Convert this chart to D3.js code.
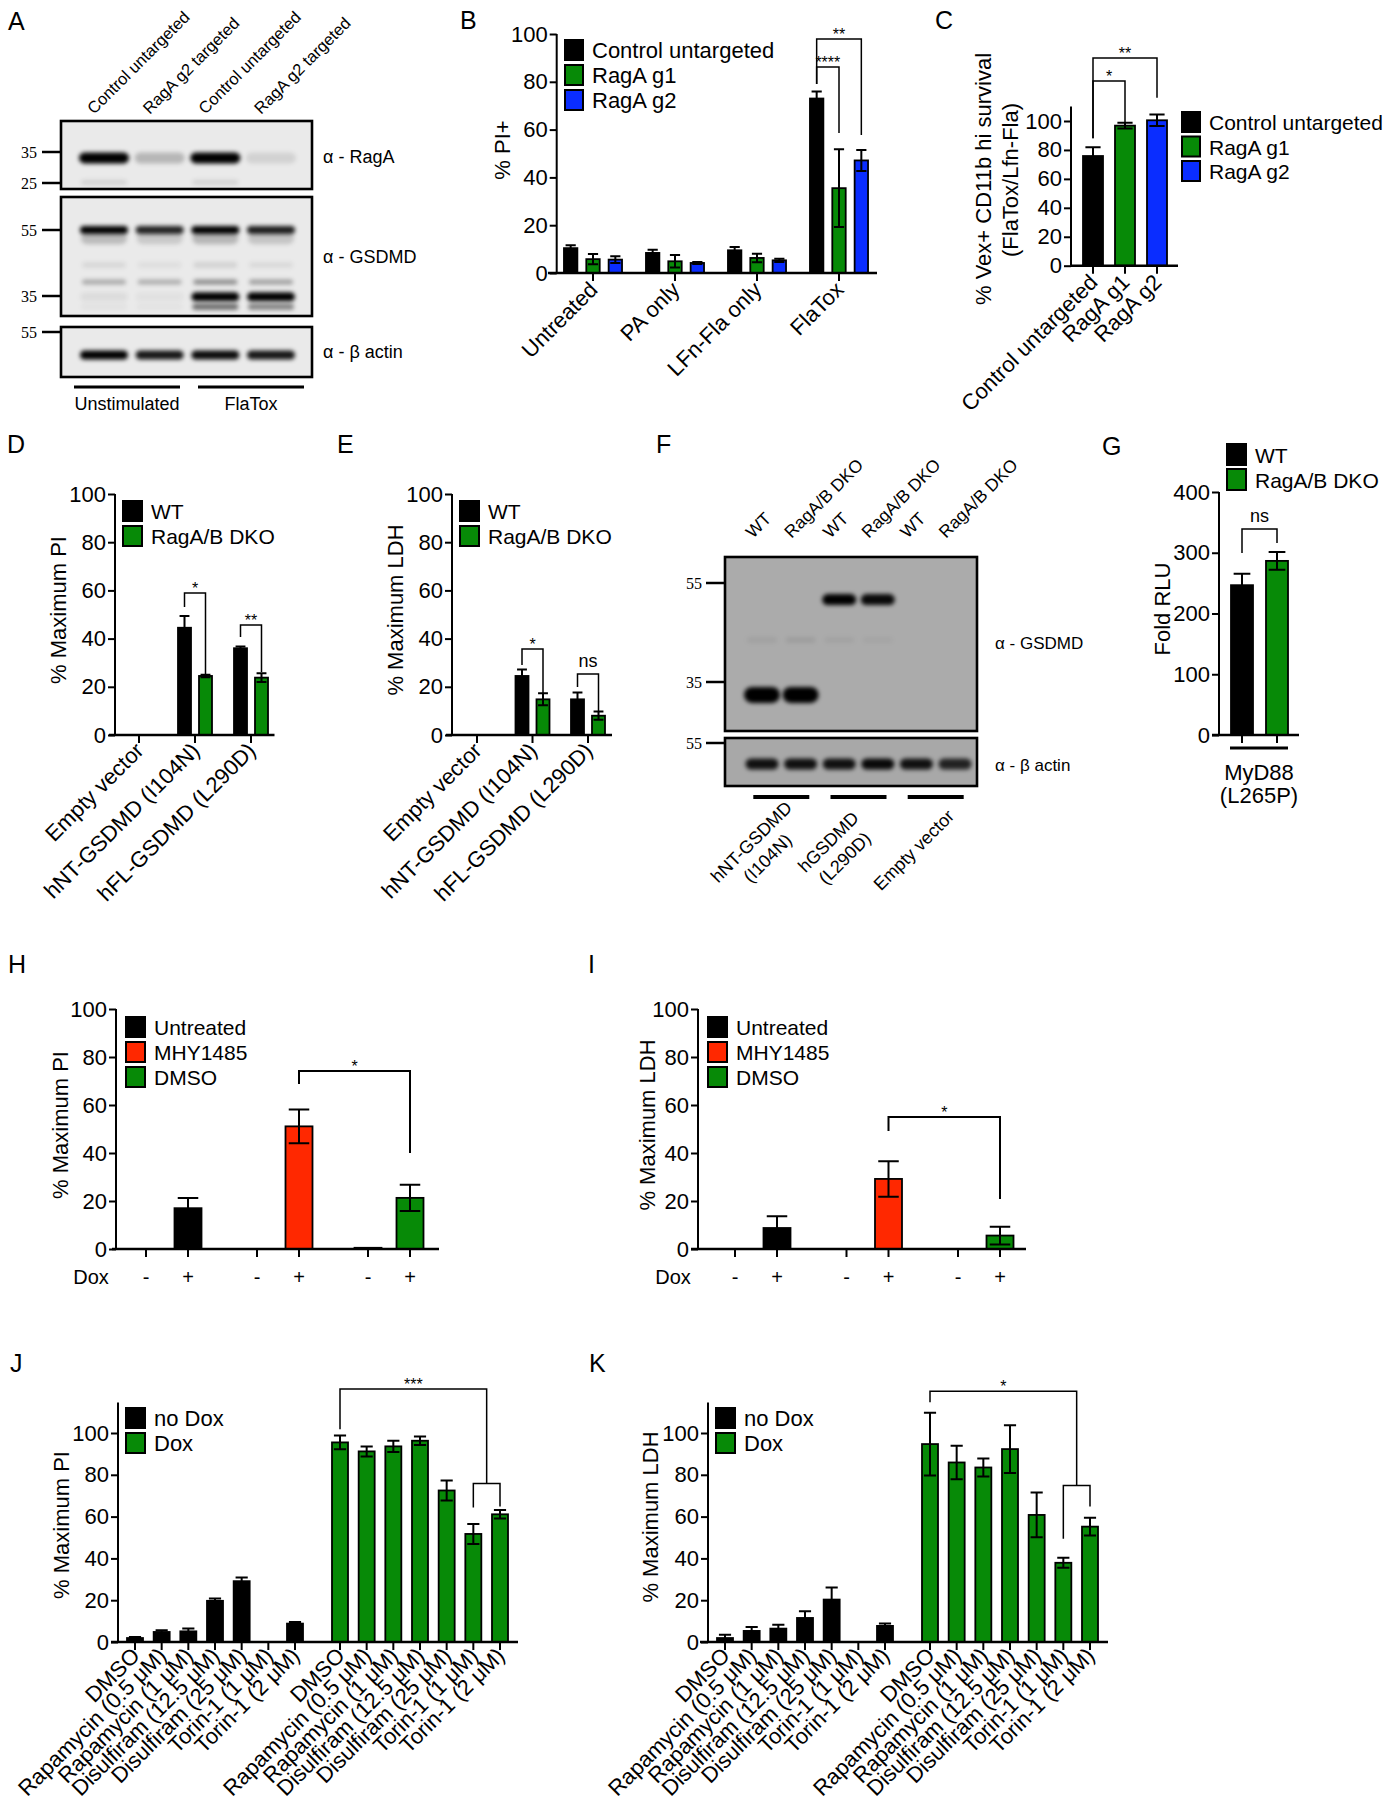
<!DOCTYPE html>
<html>
<head>
<meta charset="utf-8">
<title>RagA / GSDMD figure</title>
<script src="https://cdn.jsdelivr.net/npm/d3@7/dist/d3.min.js"></script>
<style>
  body { margin: 0; background: #fff; }
  text { font-family: "Liberation Sans", Arial, sans-serif; fill: #000; }
</style>
</head>
<body>
<svg id="fig" width="1392" height="1810"></svg>
<script>
// ---------- data ----------
// A: blot, band intensity per lane (0..1)
const aLanes = ['Control untargeted', 'RagA g2 targeted', 'Control untargeted', 'RagA g2 targeted'];
const aConditions = ['Unstimulated', 'FlaTox'];
const aRagA = [1, 0.22, 1, 0.1];
const aRagALow = [0.1, 0, 0.1, 0];
const aGsdmdFL = [1, 0.85, 1, 0.88];
const aGsdmdFL2 = [0.2, 0.14, 0.22, 0.16];
const aGsdmdMid = [0.08, 0.05, 0.1, 0.07];
const aGsdmd38 = [0.28, 0.26, 0.4, 0.32];
const aGsdmdNT = [0.06, 0.04, 1, 1];
const aGsdmdNT2 = [0.04, 0.03, 0.55, 0.45];
const aActin = [1, 0.9, 0.95, 0.9];

// B
const bCategories = ['Untreated', 'PA only', 'LFn-Fla only', 'FlaTox'];
const bSeries = ['Control untargeted', 'RagA g1', 'RagA g2'];
const bMean = [[10.4, 8.4, 9.5, 73], [5.8, 4.9, 6.3, 35.5], [5.6, 4.2, 5.3, 47.1]];
const bErr = [[1.2, 1.3, 1.4, 2.9], [2.1, 2.6, 1.8, 16.3], [1.4, 0.4, 0.7, 4.4]];
const bBrackets = [
  {a: 0, b: 2, level: 97.9, endA: 79.1, endB: 57.7, label: '**'},
  {a: 0, b: 1, level: 86.2, endA: 79.1, endB: 58.6, label: '****'}
];

// C
const cSeries = ['Control untargeted', 'RagA g1', 'RagA g2'];
const cMean = [75.8, 96.8, 100.5];
const cErr = [6, 2, 4];
const cBrackets = [
  {a: 0, b: 2, level: 143.5, endA: 88, endB: 116, label: '**'},
  {a: 0, b: 1, level: 127.6, endA: 88, endB: 99.3, label: '*'}
];

// D, E
const deCategories = ['Empty vector', 'hNT-GSDMD (I104N)', 'hFL-GSDMD (L290D)'];
const deSeries = ['WT', 'RagA/B DKO'];
const dMean = [[0, 44.5, 36], [0, 24.5, 23.8]];
const dErr = [[0, 4.9, 0.7], [0, 0.5, 1.8]];
const dBrackets = [
  {cat: 1, level: 58.9, endA: 53.1, endB: 25.3, label: '*'},
  {cat: 2, level: 45.6, endA: 40.7, endB: 26.1, label: '**'}
];
const eMean = [[0, 24.5, 14.8], [0, 14.8, 8]];
const eErr = [[0, 2.7, 2.8], [0, 2.5, 1.7]];
const eBrackets = [
  {cat: 1, level: 35.7, endA: 29, endB: 17.4, label: '*'},
  {cat: 2, level: 25.3, endA: 19.9, endB: 9.5, label: 'ns'}
];

// F: blot
const fLanes = ['WT', 'RagA/B DKO', 'WT', 'RagA/B DKO', 'WT', 'RagA/B DKO'];
const fConstructs = [['hNT-GSDMD', '(I104N)'], ['hGSDMD', '(L290D)'], ['Empty vector']];
const fGsdmdNT = [1, 1, 0, 0, 0, 0];
const fGsdmdFL = [0, 0, 1, 0.95, 0, 0];
const fFaint = [0.06, 0.08, 0.05, 0.04, 0, 0];
const fActin = [0.9, 0.9, 0.9, 0.95, 0.9, 0.8];

// G
const gSeries = ['WT', 'RagA/B DKO'];
const gMean = [246.6, 286.6];
const gErr = [19, 14.5];
const gBracket = {level: 339, endA: 299.6, endB: 316, label: 'ns'};

// H, I
const hiGroups = ['Untreated', 'MHY1485', 'DMSO'];
const hiDox = ['-', '+'];
const hNoDox = [0, 0, 0.5];
const hDox = [17, 51.1, 21.3];
const hDoxErr = [4.3, 7, 5.5];
const hBracket = {level: 74.2, endA: 68.75, endB: 40, label: '*'};
const iNoDox = [0, 0, 0];
const iDox = [8.75, 29.2, 5.6];
const iDoxErr = [4.9, 7.4, 3.7];
const iBracket = {level: 55, endA: 49.2, endB: 20.8, label: '*'};

// J, K
const jkDrugs = ['DMSO', 'Rapamycin (0.5 μM)', 'Rapamycin (1 μM)', 'Disulfiram (12.5 μM)',
  'Disulfiram (25 μM)', 'Torin-1 (1 μM)', 'Torin-1 (2 μM)'];
const jkSeries = ['no Dox', 'Dox'];
const jNoDox = [1.9, 4.8, 5.1, 19.7, 29.1, 0, 8.8];
const jNoDoxErr = [0.5, 0.8, 1.3, 1.1, 1.8, 0, 0.8];
const jDox = [95.5, 91.2, 93.6, 96.3, 72.5, 51.7, 61.1];
const jDoxErr = [3.3, 2.4, 2.7, 2.0, 4.8, 4.8, 2.0];
const jBrackets = {outer: {level: 121, endA: 101.8, endB: 75.8, label: '***'}, inner: {level: 75.8, endA: 64.3, endB: 64.8}};
const kNoDox = [1.9, 5.3, 6.4, 11.5, 20.3, 0, 7.7];
const kNoDoxErr = [1.6, 1.9, 1.9, 3.2, 5.8, 0, 1.1];
const kDox = [94.7, 85.9, 83.5, 92.3, 60.8, 37.9, 55.2];
const kDoxErr = [15, 8, 4.3, 11.4, 10.7, 2.4, 4.3];
const kBrackets = {outer: {level: 120, endA: 114.7, endB: 74.9, label: '*'}, inner: {level: 74.9, endA: 49.4, endB: 64.8}};

// ---------- helpers ----------
const COL = {black: '#000000', green: '#078a07', blue: '#0a2dff', red: '#ff2800'};
const svg = d3.select('#fig');
svg.append('rect').attr('width', 1392).attr('height', 1810).attr('fill', '#fff');
svg.append('defs').append('filter').attr('id', 'blur')
  .attr('x', '-30%').attr('y', '-150%').attr('width', '160%').attr('height', '400%')
  .append('feGaussianBlur').attr('stdDeviation', 2);

function letter(ch, x, y) {
  svg.append('text').attr('x', x).attr('y', y).attr('font-size', 25).text(ch);
}

function yAxis(g, y, x, ticks, top, fs) {
  const ax = g.append('g').attr('transform', 'translate(' + x + ',0)')
    .call(d3.axisLeft(y).tickValues(ticks).tickSize(7).tickPadding(2).tickSizeOuter(0));
  ax.attr('font-size', fs || 22);
  ax.select('.domain').remove();
  ax.append('line').attr('y1', y(0)).attr('y2', top).attr('stroke', '#000').attr('stroke-width', 2);
  ax.selectAll('.tick line').attr('stroke-width', 2);
}

function xAxis(g, x0, x1, y0, tickXs) {
  g.append('line').attr('x1', x0).attr('x2', x1).attr('y1', y0).attr('y2', y0)
    .attr('stroke', '#000').attr('stroke-width', 2.4);
  g.selectAll(null).data(tickXs).join('line')
    .attr('x1', d => d).attr('x2', d => d).attr('y1', y0).attr('y2', y0 + 8)
    .attr('stroke', '#000').attr('stroke-width', 2);
}

function drawBars(g, y, data) {
  g.selectAll(null).data(data).join('rect')
    .attr('x', d => d.cx - d.w / 2).attr('y', d => y(d.v))
    .attr('width', d => d.w).attr('height', d => y(0) - y(d.v))
    .attr('fill', d => d.fill).attr('stroke', '#000').attr('stroke-width', 1.8);
  g.selectAll(null).data(data.filter(d => d.e > 0)).join('path')
    .attr('d', d => {
      const c = d.w * 0.38, t = y(d.v + d.e), b = y(Math.max(0, d.v - d.e));
      return 'M' + d.cx + ',' + t + 'V' + b + 'M' + (d.cx - c) + ',' + t + 'H' + (d.cx + c) +
        'M' + (d.cx - c) + ',' + b + 'H' + (d.cx + c);
    })
    .attr('fill', 'none').attr('stroke', '#000').attr('stroke-width', 2);
}

function legend(g, x, y0, labels, colors, opt) {
  opt = Object.assign({w: 19, h: 20, dy: 25, gap: 9, fs: 22}, opt || {});
  const it = g.selectAll(null).data(labels).join('g')
    .attr('transform', (d, i) => 'translate(' + x + ',' + (y0 + i * opt.dy) + ')');
  it.append('rect').attr('width', opt.w).attr('height', opt.h)
    .attr('fill', (d, i) => colors[i]).attr('stroke', '#000').attr('stroke-width', 2);
  it.append('text').attr('x', opt.w + opt.gap).attr('y', opt.h - 2).attr('font-size', opt.fs).text(d => d);
}

function bracket(g, y, xa, xb, b, sw) {
  const ly = y(b.level);
  g.append('path').attr('d', 'M' + xa + ',' + y(b.endA) + 'V' + ly + 'H' + xb + 'V' + y(b.endB))
    .attr('fill', 'none').attr('stroke', '#000').attr('stroke-width', sw || 1.5);
  if (b.label) {
    g.append('text').attr('x', (xa + xb) / 2).attr('y', b.label === 'ns' ? ly - 7 : ly + 1)
      .attr('text-anchor', 'middle').attr('font-size', b.label === 'ns' ? 18 : 16).text(b.label);
  }
}

function yLabel(g, cx, cy, s, fs) {
  g.append('text').attr('transform', 'translate(' + cx + ',' + cy + ') rotate(-90)')
    .attr('text-anchor', 'middle').attr('dy', '0.35em').attr('font-size', fs || 22).text(s);
}

function xLabels(g, labels, xs, y0, fs, dx, dy) {
  g.selectAll(null).data(labels).join('text')
    .attr('transform', (d, i) => 'translate(' + (xs[i] + dx) + ',' + (y0 + dy) + ') rotate(-45)')
    .attr('text-anchor', 'end').attr('font-size', fs).text(d => d);
}

function blotBox(g, x0, x1, y0, y1, bg) {
  g.append('rect').attr('x', x0).attr('y', y0).attr('width', x1 - x0).attr('height', y1 - y0)
    .attr('fill', bg).attr('stroke', '#000').attr('stroke-width', 2.6);
}

function bands(g, lane, yPos, intens, w, h) {
  g.selectAll(null).data(intens).join('rect')
    .attr('x', (d, i) => lane(i) - w / 2).attr('y', yPos - h / 2)
    .attr('width', w).attr('height', h).attr('rx', h / 2)
    .attr('fill', '#000').attr('fill-opacity', d => d).attr('filter', 'url(#blur)');
}

function marker(g, yPos, label, xText, x0, x1, fs) {
  g.append('line').attr('x1', x0).attr('x2', x1).attr('y1', yPos).attr('y2', yPos)
    .attr('stroke', '#000').attr('stroke-width', 2.5);
  g.append('text').attr('x', xText).attr('y', yPos).attr('dy', '0.35em').attr('text-anchor', 'end')
    .attr('font-size', fs).style('font-family', '"Liberation Serif", "Times New Roman", serif').text(label);
}

function bar(cx, w, v, e, fill) { return {cx: cx, w: w, v: v, e: e, fill: fill}; }

// ---------- A ----------
(function () {
  const g = svg.append('g');
  letter('A', 8, 30);
  const lane = d3.scalePoint(d3.range(aLanes.length), [104, 271]);
  const k1 = d3.scaleLog([25, 35], [183, 152]);
  const k2 = d3.scaleLog([35, 55], [296, 230]);
  const k3 = d3.scaleLog([42, 55], [355, 332]);
  blotBox(g, 61, 312, 121, 189, '#eaeaea');
  blotBox(g, 61, 312, 197, 316, '#eaeaea');
  blotBox(g, 61, 312, 327, 377, '#eaeaea');
  bands(g, lane, k1(32.8), aRagA, 50, 11);
  bands(g, lane, k1(25.2), aRagALow, 46, 5);
  bands(g, lane, k2(52), aGsdmdFL2, 46, 12);
  bands(g, lane, k2(55), aGsdmdFL, 48, 8);
  bands(g, lane, k2(43.3), aGsdmdMid, 44, 6);
  bands(g, lane, k2(38.5), aGsdmd38, 44, 5);
  bands(g, lane, k2(34.8), aGsdmdNT, 48, 9);
  bands(g, lane, k2(32.5), aGsdmdNT2, 46, 6);
  bands(g, lane, k3(42), aActin, 48, 9);
  const fs = 16;
  marker(g, k1(35), '35', 37, 42, 61, fs);
  marker(g, k1(25), '25', 37, 42, 61, fs);
  marker(g, k2(55), '55', 37, 42, 61, fs);
  marker(g, k2(35), '35', 37, 42, 61, fs);
  marker(g, k3(55), '55', 37, 42, 61, fs);
  g.selectAll(null).data(aLanes).join('text')
    .attr('transform', (d, i) => 'translate(' + (lane(i) - 10) + ',115) rotate(-45)')
    .attr('font-size', 16.5).text(d => d);
  g.append('text').attr('x', 323).attr('y', 163).attr('font-size', 18).text('α - RagA');
  g.append('text').attr('x', 323).attr('y', 263).attr('font-size', 18).text('α - GSDMD');
  g.append('text').attr('x', 323).attr('y', 358).attr('font-size', 18).text('α - β actin');
  const cx = [127, 251];
  aConditions.forEach((c, i) => {
    g.append('line').attr('x1', cx[i] - 53).attr('x2', cx[i] + 53).attr('y1', 387).attr('y2', 387)
      .attr('stroke', '#000').attr('stroke-width', 3);
    g.append('text').attr('x', cx[i]).attr('y', 410).attr('text-anchor', 'middle').attr('font-size', 18).text(c);
  });
})();

// ---------- B ----------
(function () {
  const g = svg.append('g');
  letter('B', 460, 29);
  const y = d3.scaleLinear([0, 100], [273, 34]);
  const x = d3.scalePoint(bCategories, [593, 839]);
  const sub = d3.scaleBand(bSeries, [-33.5, 33.5]).paddingInner(0.4).paddingOuter(0.2);
  const colors = [COL.black, COL.green, COL.blue];
  const cxOf = (j, i) => x(bCategories[j]) + sub(bSeries[i]) + sub.bandwidth() / 2;
  const data = bSeries.flatMap((s, i) => bCategories.map((c, j) =>
    bar(cxOf(j, i), sub.bandwidth(), bMean[i][j], bErr[i][j], colors[i])));
  drawBars(g, y, data);
  yAxis(g, y, 556.7, d3.range(0, 101, 20), y(100));
  xAxis(g, 548, 877, y(0), bCategories.map(x));
  bBrackets.forEach(b => bracket(g, y, cxOf(3, b.a), cxOf(3, b.b), b));
  legend(g, 565, 40, bSeries, colors, {w: 18});
  yLabel(g, 502, 150, '% PI+');
  xLabels(g, bCategories, bCategories.map(x), y(0), 22, 6, 18);
})();

// ---------- C ----------
(function () {
  const g = svg.append('g');
  letter('C', 935, 29);
  const y = d3.scaleLinear([0, 100], [265.7, 121]);
  const x = d3.scaleBand(cSeries, [1077, 1173]).paddingInner(0.375).paddingOuter(0.1875);
  const colors = [COL.black, COL.green, COL.blue];
  const cx = cSeries.map(s => x(s) + x.bandwidth() / 2);
  drawBars(g, y, cSeries.map((s, i) => bar(cx[i], x.bandwidth(), cMean[i], cErr[i], colors[i])));
  yAxis(g, y, 1071, d3.range(0, 101, 20), y(110));
  xAxis(g, 1071, 1178, y(0), cx);
  cBrackets.forEach(b => bracket(g, y, cx[b.a], cx[b.b], b));
  legend(g, 1182, 112, cSeries, colors, {w: 18, dy: 24.5, gap: 9, fs: 21});
  g.append('text').attr('transform', 'translate(983,179) rotate(-90)').attr('text-anchor', 'middle')
    .attr('dy', '0.35em').attr('font-size', 22).text('% Vex+ CD11b hi survival');
  g.append('text').attr('transform', 'translate(1010,180) rotate(-90)').attr('text-anchor', 'middle')
    .attr('dy', '0.35em').attr('font-size', 22).text('(FlaTox/Lfn-Fla)');
  xLabels(g, cSeries, cx, y(0), 22, 6, 18);
})();

// ---------- D, E ----------
function dePanel(ch, lx, axisX, x0, x1, range, means, errs, brackets, ylab, ylx) {
  const g = svg.append('g');
  letter(ch, lx, 453);
  const y = d3.scaleLinear([0, 100], [735, 494]);
  const x = d3.scalePoint(deCategories, range);
  const sub = d3.scalePoint(deSeries, [-10.5, 10.5]);
  const colors = [COL.black, COL.green];
  const data = deSeries.flatMap((s, i) => deCategories.map((c, j) =>
    bar(x(c) + sub(s), 13, means[i][j], errs[i][j], colors[i])));
  drawBars(g, y, data);
  yAxis(g, y, axisX, d3.range(0, 101, 20), y(100));
  xAxis(g, x0, x1, y(0), deCategories.map(x));
  brackets.forEach(b => {
    const c = deCategories[b.cat];
    bracket(g, y, x(c) + sub(deSeries[0]), x(c) + sub(deSeries[1]), b);
  });
  legend(g, axisX + 8, 501, deSeries, colors, {w: 19, fs: 21});
  yLabel(g, ylx, 610, ylab);
  xLabels(g, deCategories, deCategories.map(x), y(0), 22, 6, 17);
}
dePanel('D', 7, 115, 109, 274.5, [139, 251], dMean, dErr, dBrackets, '% Maximum PI', 58);
dePanel('E', 337, 452, 446, 612, [477, 588], eMean, eErr, eBrackets, '% Maximum LDH', 395);

// ---------- F ----------
(function () {
  const g = svg.append('g');
  letter('F', 656, 453);
  const lane = d3.scalePoint(d3.range(fLanes.length), [762, 955]);
  const k1 = d3.scaleLog([35, 55], [682, 583]);
  const k2 = d3.scaleLog([42, 55], [764, 743]);
  blotBox(g, 725, 977, 557, 731, '#ababab');
  blotBox(g, 725, 977, 738, 786, '#a8a8a8');
  bands(g, lane, k1(42.4), fFaint, 30, 6);
  bands(g, lane, k1(51), fGsdmdFL, 34, 11);
  bands(g, lane, k1(33), fGsdmdNT, 36, 16);
  bands(g, lane, k2(42), fActin, 33, 11);
  marker(g, k1(55), '55', 702, 706, 725, 16);
  marker(g, k1(35), '35', 702, 706, 725, 16);
  marker(g, k2(55), '55', 702, 706, 725, 16);
  g.selectAll(null).data(fLanes).join('text')
    .attr('transform', (d, i) => 'translate(' + (lane(i) - 9) + ',539) rotate(-45)')
    .attr('font-size', 17.5).text(d => d);
  g.append('text').attr('x', 995).attr('y', 649).attr('font-size', 17).text('α - GSDMD');
  g.append('text').attr('x', 995).attr('y', 771).attr('font-size', 17).text('α - β actin');
  fConstructs.forEach((lines, k) => {
    const c = (lane(2 * k) + lane(2 * k + 1)) / 2;
    g.append('line').attr('x1', c - 28).attr('x2', c + 28).attr('y1', 797).attr('y2', 797)
      .attr('stroke', '#000').attr('stroke-width', 4);
    const t = g.append('text').attr('transform', 'translate(' + (c - 22) + ',850) rotate(-45)')
      .attr('text-anchor', 'middle').attr('font-size', 18);
    lines.forEach((s, i) => {
      t.append('tspan').attr('x', 0).attr('y', (i - (lines.length - 1) / 2) * 23).attr('dy', '0.35em').text(s);
    });
  });
})();

// ---------- G ----------
(function () {
  const g = svg.append('g');
  letter('G', 1102, 455);
  const y = d3.scaleLinear([0, 400], [735, 492]);
  const x = d3.scalePoint(gSeries, [1242, 1277]);
  const colors = [COL.black, COL.green];
  drawBars(g, y, gSeries.map((s, i) => bar(x(s), 22, gMean[i], gErr[i], colors[i])));
  yAxis(g, y, 1219, d3.range(0, 401, 100), y(400));
  xAxis(g, 1212, 1299, y(0), gSeries.map(x));
  bracket(g, y, x(gSeries[0]), x(gSeries[1]), gBracket);
  legend(g, 1227, 444, gSeries, colors, {w: 19, h: 21, fs: 21});
  yLabel(g, 1162, 609, 'Fold RLU');
  g.append('line').attr('x1', 1230).attr('x2', 1288).attr('y1', 748).attr('y2', 748)
    .attr('stroke', '#000').attr('stroke-width', 3);
  g.append('text').attr('x', 1259).attr('y', 780).attr('text-anchor', 'middle').attr('font-size', 22).text('MyD88');
  g.append('text').attr('x', 1259).attr('y', 803).attr('text-anchor', 'middle').attr('font-size', 22).text('(L265P)');
})();

// ---------- H, I ----------
function hiPanel(ch, lx, axisX, x0, x1, range, noDox, dox, doxErr, br, ylab, ylx, doxX) {
  const g = svg.append('g');
  letter(ch, lx, 973);
  const y = d3.scaleLinear([0, 100], [1249, 1009]);
  const x = d3.scalePoint(hiGroups, range);
  const sub = d3.scalePoint(hiDox, [-21, 21]);
  const colors = [COL.black, COL.red, COL.green];
  const data = hiGroups.flatMap((grp, j) => [
    bar(x(grp) + sub('-'), 27, noDox[j], 0, colors[j]),
    bar(x(grp) + sub('+'), 27, dox[j], doxErr[j], colors[j])
  ]);
  drawBars(g, y, data);
  yAxis(g, y, axisX, d3.range(0, 101, 20), y(100));
  const ticks = hiGroups.flatMap(grp => hiDox.map(s => x(grp) + sub(s)));
  xAxis(g, x0, x1, y(0), ticks);
  bracket(g, y, x('MHY1485') + sub('+'), x('DMSO') + sub('+'), br, 2);
  legend(g, axisX + 10, 1017, hiGroups, colors, {w: 19, fs: 21});
  yLabel(g, ylx, 1125, ylab);
  g.append('text').attr('x', doxX).attr('y', 1284).attr('text-anchor', 'middle').attr('font-size', 20).text('Dox');
  g.selectAll(null).data(hiGroups.flatMap(() => hiDox)).join('text')
    .attr('x', (d, i) => ticks[i]).attr('y', 1284).attr('text-anchor', 'middle').attr('font-size', 20).text(d => d);
}
hiPanel('H', 8, 116, 112, 439, [167, 389], hNoDox, hDox, hDoxErr, hBracket, '% Maximum PI', 60, 91);
hiPanel('I', 588, 698, 691, 1026, [756, 979], iNoDox, iDox, iDoxErr, iBracket, '% Maximum LDH', 647, 673);

// ---------- J, K ----------
function jkPanel(ch, lx, axisX, x0, x1, first, noDox, noDoxErr, dox, doxErr, br, ylab, ylx, yly) {
  const g = svg.append('g');
  letter(ch, lx, 1372);
  const y = d3.scaleLinear([0, 100], [1642, 1433]);
  const x = d3.scalePoint(jkDrugs, [first, first + 160]);
  const grp = d3.scalePoint(jkSeries, [0, 205]);
  const colors = [COL.black, COL.green];
  const pos = (s, d) => x(d) + grp(s);
  const data = jkDrugs.map((d, i) => bar(pos('no Dox', d), 16, noDox[i], noDoxErr[i], colors[0]))
    .concat(jkDrugs.map((d, i) => bar(pos('Dox', d), 16, dox[i], doxErr[i], colors[1])));
  drawBars(g, y, data);
  yAxis(g, y, axisX, d3.range(0, 101, 20), y(114.6));
  const ticks = jkSeries.flatMap(s => jkDrugs.map(d => pos(s, d)));
  xAxis(g, x0, x1, y(0), ticks);
  const t1 = pos('Dox', jkDrugs[5]), t2 = pos('Dox', jkDrugs[6]);
  bracket(g, y, t1, t2, br.inner);
  bracket(g, y, pos('Dox', jkDrugs[0]), (t1 + t2) / 2, br.outer);
  legend(g, axisX + 8, 1408, jkSeries, colors, {w: 19, fs: 22});
  yLabel(g, ylx, yly, ylab);
  xLabels(g, jkDrugs.concat(jkDrugs), ticks, y(0), 22, 6, 15);
}
jkPanel('J', 10, 118, 111, 518, 135, jNoDox, jNoDoxErr, jDox, jDoxErr, jBrackets, '% Maximum PI', 61, 1525);
jkPanel('K', 589, 708, 700, 1108, 725, kNoDox, kNoDoxErr, kDox, kDoxErr, kBrackets, '% Maximum LDH', 650, 1517);
</script>
</body>
</html>
